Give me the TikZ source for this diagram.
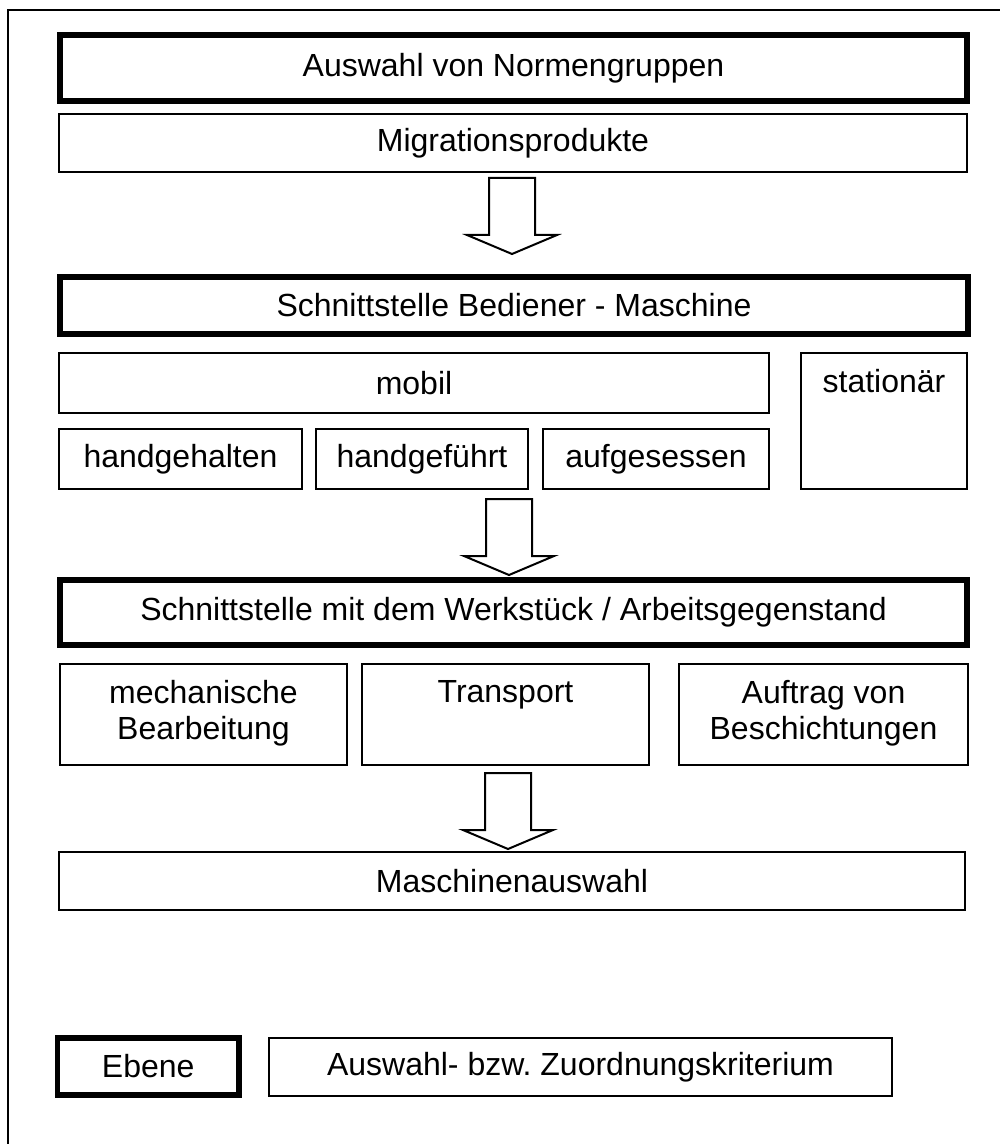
\documentclass[tikz,border=0pt]{standalone}
\usepackage{fontspec}
\setmainfont{Liberation Sans}
\usetikzlibrary{positioning}
\tikzset{
    schema/.style={x=0.5pt, y=-0.5pt, font=\fontsize{16}{18}\selectfont},
    critbox/.style={draw, line width=1pt, inner sep=0pt, align=center},
    levelbox/.style={critbox, line width=2.6pt},
    % text sitting at the top edge of a tall box
    toptext/.style={anchor=north, inner ysep=8.5pt, align=center},
    frame/.style={line width=1pt},
    pics/flowarrow/.style={code={
        \draw[line width=1pt] (-23,0) -- (23,0) -- (23,57) -- (45,57) -- (0,76)
            -- (-45,57) -- (-23,57) -- cycle;
    }},
}
\begin{document}
\begin{tikzpicture}[schema]
    \useasboundingbox (0,0) rectangle (1000,1144);
    \draw[frame] (8.3,1144) |- (1000,9.8);

    \node[levelbox, minimum width=453.5pt, minimum height=33pt] (normen) at (513.5,68) {Auswahl von Normengruppen};
    \node[critbox, minimum width=454pt, minimum height=29pt] (migration) at (513,143) {Migrationsprodukte};

    \pic (arrA) at (512,178) {flowarrow};

    \node[levelbox, minimum width=454pt, minimum height=28.5pt] (bediener) at (514,305.5) {Schnittstelle Bediener - Maschine};
    \node[critbox, minimum width=355pt, minimum height=30pt] (mobil) at (414,383) {mobil};
    \node[critbox, minimum width=83pt, minimum height=68pt, label={[toptext]north:stationär}] (stationaer) at (884,421) {};
    \node[critbox, minimum width=121.5pt, minimum height=30pt] (gehalten) at (180.5,459) {handgehalten};
    \node[critbox, minimum width=106pt, minimum height=30pt] (gefuehrt) at (422,459) {handgeführt};
    \node[critbox, minimum width=113pt, minimum height=30pt] (gesessen) at (656,459) {aufgesessen};

    \pic (arrB) at (509,499) {flowarrow};

    \node[levelbox, minimum width=453.5pt, minimum height=32.5pt] (werkstueck) at (513.5,612.5) {Schnittstelle mit dem Werkstück / Arbeitsgegenstand};
    \node[critbox, minimum width=143.5pt, minimum height=50.5pt, label={[toptext]north:mechanische\\Bearbeitung}] (mechanisch) at (203.5,714.5) {};
    \node[critbox, minimum width=143.5pt, minimum height=50.5pt, label={[toptext]north:Transport}] (transport) at (505.5,714.5) {};
    \node[critbox, minimum width=144.5pt, minimum height=50.5pt, label={[toptext]north:Auftrag von\\Beschichtungen}] (auftrag) at (823.5,714.5) {};

    \pic (arrC) at (508,773) {flowarrow};

    \node[critbox, minimum width=453pt, minimum height=29pt] (auswahl) at (512,881) {Maschinenauswahl};

    % Legende
    \node[levelbox, minimum width=90.75pt, minimum height=28.5pt] (ebene) at (148.25,1066.5) {Ebene};
    \node[critbox, minimum width=311.5pt, minimum height=29pt] (kriterium) at (580.5,1067) {Auswahl- bzw.\ Zuordnungskriterium};
\end{tikzpicture}
\end{document}
